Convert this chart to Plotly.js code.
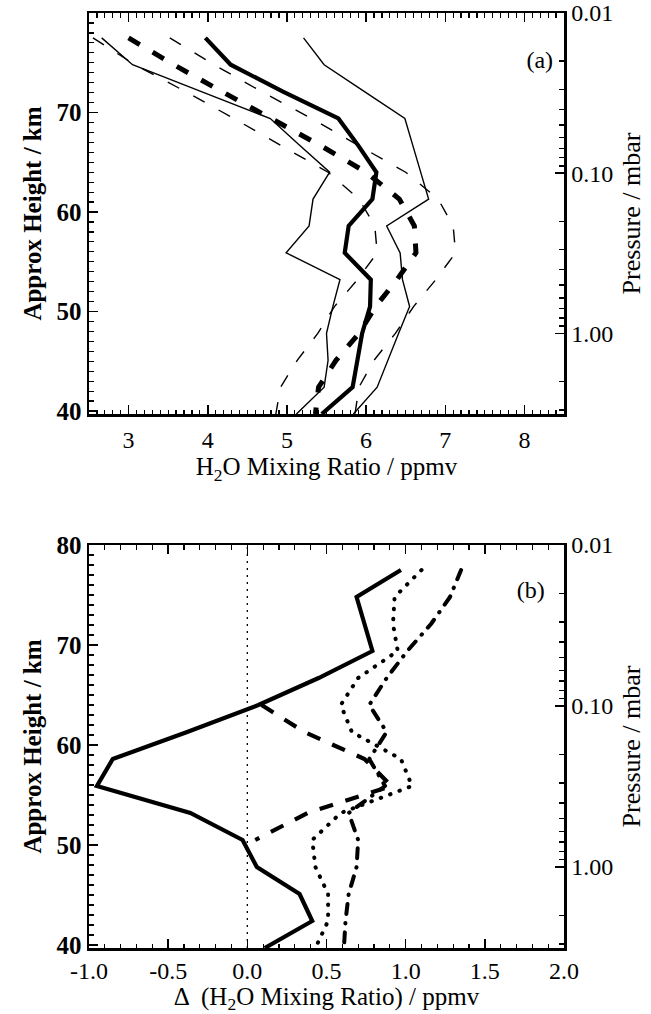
<!DOCTYPE html>
<html><head><meta charset="utf-8">
<script src="https://cdn.plot.ly/plotly-3.0.1.min.js"></script>
<style>
html,body{margin:0;padding:0;background:#fff;}
#chart{width:651px;height:1014px;}
.tracedotb path.js-line, .tracedashdotb path.js-line {stroke-linecap: round; stroke-linejoin: round;}
</style></head><body><div id="chart"></div><script>
// Height levels (km)
var heights = [77.5, 74.8, 72.1, 69.4, 66.7, 64.0, 61.3, 58.6, 55.9, 53.2, 50.5, 47.8, 45.1, 42.4, 39.7];
// Pressure levels (mbar) matching the height levels
var pressures = [0.0147, 0.0215, 0.0316, 0.0464, 0.0681, 0.1, 0.147, 0.215, 0.316, 0.464, 0.681, 1.0, 1.47, 2.15, 3.16];
// Panel (a): H2O mixing ratio (ppmv)
var meanA  = [3.97, 4.29, 4.95, 5.65, 5.90, 6.13, 6.08, 5.78, 5.73, 6.06, 6.05, 5.95, 5.89, 5.83, 5.44];
var lowA   = [2.66, 3.05, 3.92, 4.79, 5.16, 5.54, 5.33, 5.28, 4.99, 5.67, 5.58, 5.50, 5.52, 5.47, 5.12];
var highA  = [5.21, 5.47, 5.98, 6.49, 6.59, 6.69, 6.79, 6.26, 6.43, 6.46, 6.55, 6.41, 6.28, 6.14, 5.84];
var meanB  = [3.00, 3.57, 4.18, 4.80, 5.42, 6.00, 6.42, 6.61, 6.63, 6.39, 6.12, 5.91, 5.62, 5.40, 5.36];
var lowB   = [2.55, 3.08, 3.72, 4.33, 4.92, 5.52, 5.91, 6.11, 6.14, 5.89, 5.60, 5.39, 5.13, 4.92, 4.86];
var highB  = [3.52, 4.08, 4.68, 5.31, 5.90, 6.50, 6.91, 7.10, 7.13, 6.88, 6.60, 6.37, 6.10, 5.91, 5.86];
// Panel (b): differences (ppmv)
var diffSolid   = [0.97, 0.69, 0.74, 0.79, 0.45, 0.07, -0.38, -0.85, -0.95, -0.36, -0.03, 0.06, 0.33, 0.41, 0.11];
var dashHeights = [64.0, 61.3, 58.6, 55.9, 53.2, 50.5];
var diffDashed  = [0.09, 0.36, 0.74, 0.91, 0.38, 0.05];
var diffDotted  = [1.10, 0.93, 0.92, 0.95, 0.70, 0.59, 0.66, 0.97, 1.04, 0.59, 0.41, 0.43, 0.51, 0.51, 0.43];
var diffDashDot = [1.35, 1.28, 1.16, 1.01, 0.88, 0.77, 0.88, 0.77, 0.87, 0.64, 0.70, 0.69, 0.64, 0.62, 0.61];
// Tick labels
var pressTickVals = [0.01, 0.1, 1];
var pressTickText = ['0.01', '0.10', '1.00'];
var pressMinor = [0.02,0.03,0.04,0.05,0.06,0.07,0.08,0.09,0.2,0.3,0.4,0.5,0.6,0.7,0.8,0.9,2,3];
var diffTickVals = [-1, -0.5, 0, 0.5, 1, 1.5, 2];
var diffTickText = ['-1.0', '-0.5', '0.0', '0.5', '1.0', '1.5', '2.0'];
// Panel labels
var panelLabels = ['(a)', '(b)'];

var hTop = 80, hBot = 39.7;
function hToLogP(h){ return -2 - (h - 80) / 16.1; }

var serif = 'Liberation Serif, Times New Roman, serif';
var K = '#000';

function tr(x, y, xa, ya, w, dash, uid){
  return {x: x, y: y, xaxis: xa, yaxis: ya, type: 'scatter', mode: 'lines',
    line: {color: K, width: w, dash: dash}, uid: uid, showlegend: false, hoverinfo: 'skip'};
}
function ghost(x, xa, ya){
  // invisible trace on the pressure levels so that the pressure axis is drawn
  return {x: x, y: pressures, xaxis: xa, yaxis: ya, type: 'scatter', mode: 'lines',
    line: {color: 'rgba(0,0,0,0)', width: 0}, showlegend: false, hoverinfo: 'skip'};
}
function label(txt, xa, ya, xr, frac){
  // place panel label at a fraction of the axis ranges
  return {x: [xr[0] + frac[0] * (xr[1] - xr[0])], y: [hBot + frac[1] * (hTop - hBot)], xaxis: xa, yaxis: ya,
    type: 'scatter', mode: 'text', text: [txt], textposition: 'middle center',
    textfont: {family: serif, size: 24, color: K}, showlegend: false, hoverinfo: 'skip'};
}

var xRangeA = [2.5, 8.5], xRangeB = [-1, 2];

var data = [
  ghost(meanB, 'x', 'y2'),
  ghost(diffDotted, 'x2', 'y4'),
  tr(lowA, heights, 'x', 'y', 1.4, 'solid', 'lowa'),
  tr(highA, heights, 'x', 'y', 1.4, 'solid', 'higha'),
  tr(lowB, heights, 'x', 'y', 1.4, '13px,16px', 'lowb'),
  tr(highB, heights, 'x', 'y', 1.4, '13px,16px', 'highb'),
  tr(meanB, heights, 'x', 'y', 5, '13px,15px', 'meanb'),
  tr(meanA, heights, 'x', 'y', 4.2, 'solid', 'meana'),
  tr(diffSolid, heights, 'x2', 'y3', 4.2, 'solid', 'solidb'),
  tr(diffDashed, dashHeights, 'x2', 'y3', 4.2, '14px,13px', 'dashb'),
  tr(diffDotted, heights, 'x2', 'y3', 4, '0.5px,9.5px', 'dotb'),
  tr(diffDashDot, heights, 'x2', 'y3', 4, '10px,9px,0.5px,9px', 'dashdotb'),
  label(panelLabels[0], 'x', 'y', xRangeA, [0.949, 0.878]),
  label(panelLabels[1], 'x2', 'y3', xRangeB, [0.93, 0.883])
];

var tickFont = {family: serif, size: 24, color: K};
var boldTick = {family: serif, size: 25, color: K, weight: 'bold'};

function xAxis(anchor, range, extra){
  var a = {anchor: anchor, domain: [0, 1], range: range, showline: true, linewidth: 2.5, linecolor: K,
    mirror: 'ticks', ticks: 'inside', ticklen: 9, tickwidth: 1.5, tickcolor: K,
    showgrid: false, zeroline: false, tickfont: tickFont};
  for (var k in extra) a[k] = extra[k];
  return a;
}
function yLeft(anchor, domain){
  return {anchor: anchor, domain: domain, range: [hBot, hTop], dtick: 10, tick0: 0,
    showline: true, linewidth: 2.5, linecolor: K, mirror: true,
    ticks: 'inside', ticklen: 9, tickwidth: 1.5, tickcolor: K, showgrid: false, zeroline: false,
    tickfont: boldTick,
    minor: {ticks: 'inside', dtick: 1, tick0: 0, ticklen: 4.5, tickwidth: 1.2, tickcolor: K, showgrid: false},
    title: {text: 'Approx Height / km', font: {family: serif, size: 25, color: K, weight: 'bold'}, standoff: 8}};
}
function yRight(anchor, over){
  return {anchor: anchor, overlaying: over, side: 'right', type: 'log',
    range: [hToLogP(hBot), hToLogP(hTop)],
    tickmode: 'array', tickvals: pressTickVals, ticktext: pressTickText,
    showline: true, linewidth: 2.5, linecolor: K, ticks: 'inside', ticklen: 9, tickwidth: 1.5, tickcolor: K,
    showgrid: false, tickfont: tickFont,
    minor: {tickmode: 'array', tickvals: pressMinor, ticks: 'inside', ticklen: 5, tickcolor: K},
    title: {text: 'Pressure / mbar', font: {family: serif, size: 26, color: K}}};
}

var layout = {
  width: 651, height: 1014,
  margin: {l: 89, r: 87, t: 13, b: 66},
  showlegend: false,
  font: {family: serif, color: K},
  xaxis: xAxis('y', xRangeA, {dtick: 1, tick0: 0, ticklabelstandoff: 3,
    minor: {ticks: 'inside', dtick: 0.1, tick0: 0, ticklen: 4.5, tickwidth: 1.2, tickcolor: K, showgrid: false},
    title: {text: 'H<sub>2</sub>O Mixing Ratio / ppmv', font: {family: serif, size: 25, color: K}, standoff: 2}}),
  yaxis: yLeft('x', [0.5711, 1]),
  yaxis2: yRight('x', 'y'),
  xaxis2: xAxis('y3', xRangeB, {tickmode: 'array', tickvals: diffTickVals, ticktext: diffTickText, ticklabelstandoff: 0,
    minor: {tickmode: 'linear', ticks: 'inside', dtick: 0.1, tick0: 0, ticklen: 4.5, tickwidth: 1.2, tickcolor: K, showgrid: false},
    title: {text: '\u0394  (H<sub>2</sub>O Mixing Ratio) / ppmv', font: {family: serif, size: 25, color: K}, standoff: 2}}),
  yaxis3: yLeft('x2', [0, 0.431]),
  yaxis4: yRight('x2', 'y3'),
  shapes: [{type: 'line', xref: 'x2', yref: 'y3 domain', x0: 0, x1: 0, y0: 0, y1: 1,
    line: {color: K, width: 1.3, dash: '2px,5px'}}]
};

Plotly.newPlot('chart', data, layout, {staticPlot: true, displayModeBar: false});
</script></body></html>
